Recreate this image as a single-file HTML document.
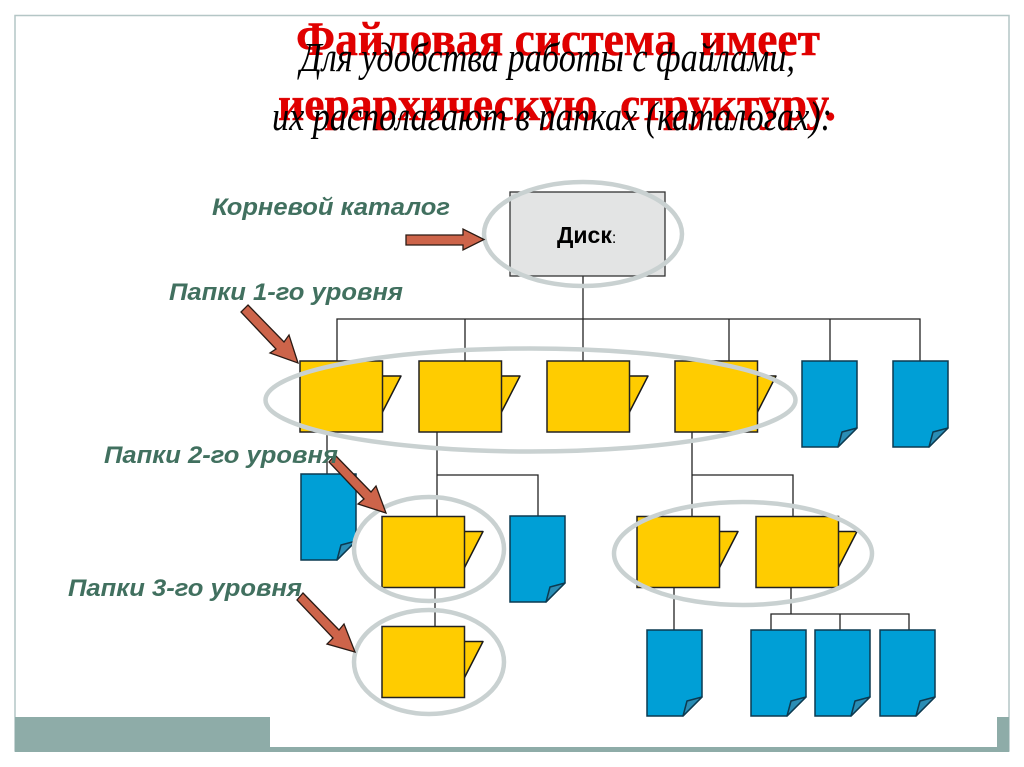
<!DOCTYPE html>
<html><head><meta charset="utf-8"><style>
html,body{margin:0;padding:0;background:#fff;width:1024px;height:767px;overflow:hidden}
svg{display:block}
.l{font:italic bold 24.5px "Liberation Sans",sans-serif;fill:#41705f}
.r{font:bold 48px "Liberation Serif",serif;fill:#e00000;stroke:#e00000;stroke-width:.5}
.b{font:italic 41px "Liberation Serif",serif;fill:#000}
</style></head><body>
<svg width="1024" height="767" viewBox="0 0 1024 767" xmlns="http://www.w3.org/2000/svg" xmlns:xlink="http://www.w3.org/1999/xlink">
<defs>
<g id="f"><path d="M82 15H101L82 52Z" fill="#ffcc00" stroke="#1a1a1a" stroke-width="1.5" stroke-linejoin="round"/><rect width="82.5" height="71" fill="#ffcc00" stroke="#222" stroke-width="1.5"/></g>
<g id="d"><path d="M0 0H55V67L36 86H0Z" fill="#009fd6" stroke="#0c3a50" stroke-width="1.5"/><path d="M55 67L40 71L36 86Z" fill="#2a8db5" stroke="#0c3a50" stroke-width="1.5" stroke-linejoin="round"/></g>
</defs>
<rect width="1024" height="767" fill="#fff"/>
<rect x="15" y="15.5" width="994" height="735.5" fill="#fff" stroke="#b4c6c6" stroke-width="1.5"/>
<rect x="15" y="717" width="255" height="35" fill="#8eaca8"/>
<rect x="270" y="747" width="739" height="5" fill="#8eaca8"/>
<rect x="997" y="717" width="12" height="35" fill="#8eaca8"/>

<text class="r" x="296" y="55" textLength="524" lengthAdjust="spacingAndGlyphs">Файловая система &#160;имеет</text>
<text class="r" x="278" y="120" textLength="558" lengthAdjust="spacingAndGlyphs">иерархическую &#160;структуру.</text>
<text class="b" x="300" y="71" textLength="495" lengthAdjust="spacingAndGlyphs">Для удобства работы с файлами,</text>
<text class="b" x="272" y="130" textLength="560" lengthAdjust="spacingAndGlyphs">их располагают в папках (каталогах):</text>

<g fill="none" stroke="#222" stroke-width="1.3">
<path d="M583 276V319M337 361V319H920V361M465 319V361M583 319V361M729 319V361M830 319V361"/>
<path d="M327 432V474M437 432V516M437 475H538V516M692 432V516M692 475H793V516"/>
<path d="M435 588V626M674 588V630M791 588V614M771 630V614H909V630M840 614V630"/>
</g>

<rect x="510" y="192" width="155" height="84" fill="#e3e4e4" stroke="#333" stroke-width="1.3"/>
<text x="557" y="243" font-family="Liberation Sans,sans-serif" font-size="23" font-weight="bold" fill="#000">Диск<tspan font-size="16" font-weight="normal">:</tspan></text>

<use xlink:href="#f" x="300" y="361"/>
<use xlink:href="#f" x="419" y="361"/>
<use xlink:href="#f" x="547" y="361"/>
<use xlink:href="#f" x="675" y="361"/>
<use xlink:href="#f" x="382" y="516.500"/>
<use xlink:href="#f" x="637" y="516.500"/>
<use xlink:href="#f" x="756" y="516.500"/>
<use xlink:href="#f" x="382" y="626.500"/>
<use xlink:href="#d" x="802" y="361"/>
<use xlink:href="#d" x="893" y="361"/>
<use xlink:href="#d" x="301" y="474"/>
<use xlink:href="#d" x="510" y="516"/>
<use xlink:href="#d" x="647" y="630"/>
<use xlink:href="#d" x="751" y="630"/>
<use xlink:href="#d" x="815" y="630"/>
<use xlink:href="#d" x="880" y="630"/>

<g fill="none" stroke="#c9d1d1" stroke-width="4.500">
<ellipse cx="583" cy="234" rx="99" ry="52"/>
<ellipse cx="530.500" cy="400" rx="265" ry="51.500"/>
<ellipse cx="429" cy="549" rx="75" ry="52"/>
<ellipse cx="743" cy="553.500" rx="129" ry="51.500"/>
<ellipse cx="429" cy="662" rx="75" ry="52"/>
</g>

<g fill="#cd644a" stroke="#2a1a14" stroke-width="1.3" stroke-linejoin="miter">
<path d="M406 235H463V229L484 239.500L463 250V245H406Z"/>
<path d="M248 305L284 342L289 335L298 363L270 353L276 349L241 312Z"/>
<path d="M335 455L371 492L376 486L386 513L358 504L364 499L329 462Z"/>
<path d="M303 593L339 630L344 624L355 652L327 644L333 638L297 600Z"/>
</g>

<text class="l" x="212" y="215" textLength="238" lengthAdjust="spacingAndGlyphs">Корневой каталог</text>
<text class="l" x="169" y="300" textLength="234" lengthAdjust="spacingAndGlyphs">Папки 1-го уровня</text>
<text class="l" x="104" y="463" textLength="234" lengthAdjust="spacingAndGlyphs">Папки 2-го уровня</text>
<text class="l" x="68" y="596" textLength="234" lengthAdjust="spacingAndGlyphs">Папки 3-го уровня</text>
</svg>
</body></html>
